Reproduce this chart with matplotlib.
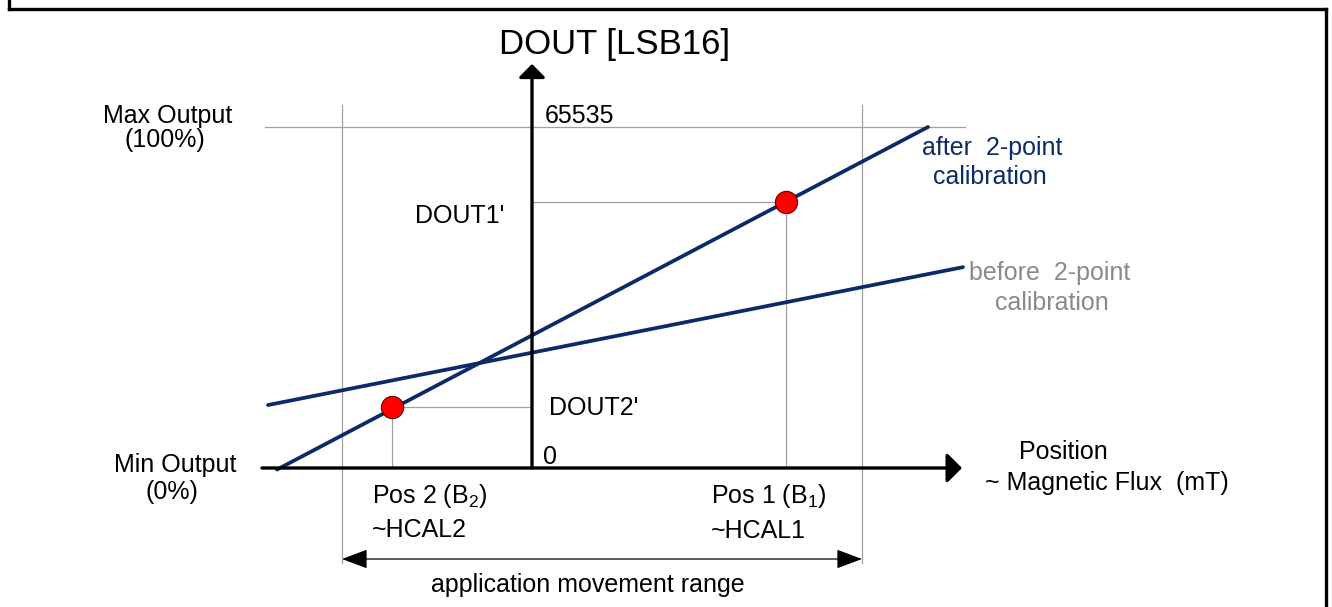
import matplotlib
matplotlib.use("Agg")
import matplotlib.pyplot as plt
from matplotlib.lines import Line2D

plt.rcParams['font.family'] = ['Liberation Sans', 'DejaVu Sans']
plt.rcParams['mathtext.fontset'] = 'custom'
plt.rcParams['mathtext.rm'] = 'Liberation Sans'

# calibration points: Pos2 / Pos1 (x in position units, y in LSB16)
pos_cal = [-1.40, 2.54]
dout_cal = [11700, 51100]
# characteristic lines (end points)
after_x = [-2.55, 3.96]
after_y = [-300, 65535]
before_x = [-2.64, 4.31]
before_y = [12100, 38600]
# axes extent
dout_max = 65535
x_axis = [-2.70, 4.30]
y_axis_top = 77640
max_line_x = [-2.67, 4.33]
# application movement range
app_range = [-1.90, 3.30]
range_top = 69760
range_bottom = -18250
range_arrow_y = -17490

navy = '#0c2a68'
gray = '#a0a0a0'
gtext = '#8a8a8a'
fs = 18

fig = plt.figure(figsize=(13.32, 6.07), dpi=100)
ax = fig.add_axes([0, 0, 1, 1])
ax.set_xlim(-5.32, 8.00)
ax.set_ylim(-26713, 89940)
ax.axis('off')

# frame (open at the bottom)
W, H = 1332, 607
for xs, ys in [([8.5, 8.5], [H, H - 8.5]), ([8.5, 1326], [H - 8.5, H - 8.5]), ([1326, 1326], [H - 8.5, 0])]:
    fig.add_artist(Line2D([x / W for x in xs], [y / H for y in ys], color='black', lw=2.4,
                          transform=fig.transFigure, solid_capstyle='projecting'))

# gray helper lines
ax.plot(max_line_x, [dout_max, dout_max], color=gray, lw=0.9)
for xr in app_range:
    ax.plot([xr, xr], [range_top, range_bottom], color=gray, lw=0.9)
ax.plot([pos_cal[0], pos_cal[0]], [0, dout_cal[0]], color=gray, lw=0.9)
ax.plot([pos_cal[0], 0], [dout_cal[0], dout_cal[0]], color=gray, lw=0.9)
ax.plot([pos_cal[1], pos_cal[1]], [0, dout_cal[1]], color=gray, lw=0.9)
ax.plot([0, pos_cal[1]], [dout_cal[1], dout_cal[1]], color=gray, lw=0.9)

# main axes with arrows
ax.annotate('', xy=(x_axis[1], 0), xytext=(x_axis[0], 0),
            arrowprops=dict(arrowstyle='-|>,head_length=0.45,head_width=0.45', mutation_scale=20,
                            lw=2.4, color='black', shrinkA=0, shrinkB=0))
ax.annotate('', xy=(0, y_axis_top), xytext=(0, 0),
            arrowprops=dict(arrowstyle='-|>,head_length=0.4,head_width=0.4', mutation_scale=20,
                            lw=2.4, color='black', shrinkA=0, shrinkB=0))

# range arrow
ax.annotate('', xy=(app_range[0], range_arrow_y), xytext=(app_range[1], range_arrow_y),
            arrowprops=dict(arrowstyle='<|-|>,head_length=0.8,head_width=0.3', mutation_scale=20,
                            lw=0.9, color='black', shrinkA=0, shrinkB=0))

# characteristic lines
ax.plot(before_x, before_y, color=navy, lw=2.7, solid_capstyle='round')
ax.plot(after_x, after_y, color=navy, lw=2.7, solid_capstyle='round')
ax.plot(pos_cal, dout_cal, 'o', color='#ff0000', markeredgecolor='#600000',
        markeredgewidth=0.8, markersize=16, zorder=5)

# labels
ax.text(0.83, 81300, 'DOUT [LSB16]', fontsize=25, ha='center', va='center')
ax.text(-3.64, 67650, 'Max Output', fontsize=fs, ha='center', va='center')
ax.text(-3.67, 63000, '(100%)', fontsize=fs, ha='center', va='center')
ax.text(0.13, 67650, str(dout_max), fontsize=fs, ha='left', va='center')
ax.text(4.60, 61500, 'after  2-point', fontsize=fs, ha='center', va='center', color=navy)
ax.text(4.58, 55920, 'calibration', fontsize=fs, ha='center', va='center', color=navy)
ax.text(-1.17, 48430, "DOUT1'", fontsize=fs, ha='left', va='center')
ax.text(5.18, 37480, 'before  2-point', fontsize=fs, ha='center', va='center', color=gtext)
ax.text(5.20, 31710, 'calibration', fontsize=fs, ha='center', va='center', color=gtext)
ax.text(0.17, 11530, "DOUT2'", fontsize=fs, ha='left', va='center')
ax.text(5.31, 3080, 'Position', fontsize=fs, ha='center', va='center')
ax.text(5.75, -2880, '~ Magnetic Flux  (mT)', fontsize=fs, ha='center', va='center')
ax.text(0.11, 2110, '0', fontsize=fs, ha='left', va='center')
ax.text(-3.57, 580, 'Min Output', fontsize=fs, ha='center', va='center')
ax.text(-3.60, -4610, '(0%)', fontsize=fs, ha='center', va='center')
ax.text(-1.60, -5380, r'Pos 2 ($\mathregular{B_2}$)', fontsize=fs, ha='left', va='center')
ax.text(-1.60, -11900, '~HCAL2', fontsize=fs, ha='left', va='center')
ax.text(1.79, -5380, r'Pos 1 ($\mathregular{B_1}$)', fontsize=fs, ha='left', va='center')
ax.text(1.79, -12100, '~HCAL1', fontsize=fs, ha='left', va='center')
ax.text(0.56, -22480, 'application movement range', fontsize=fs, ha='center', va='center')

fig.savefig('out.png', dpi=100)
